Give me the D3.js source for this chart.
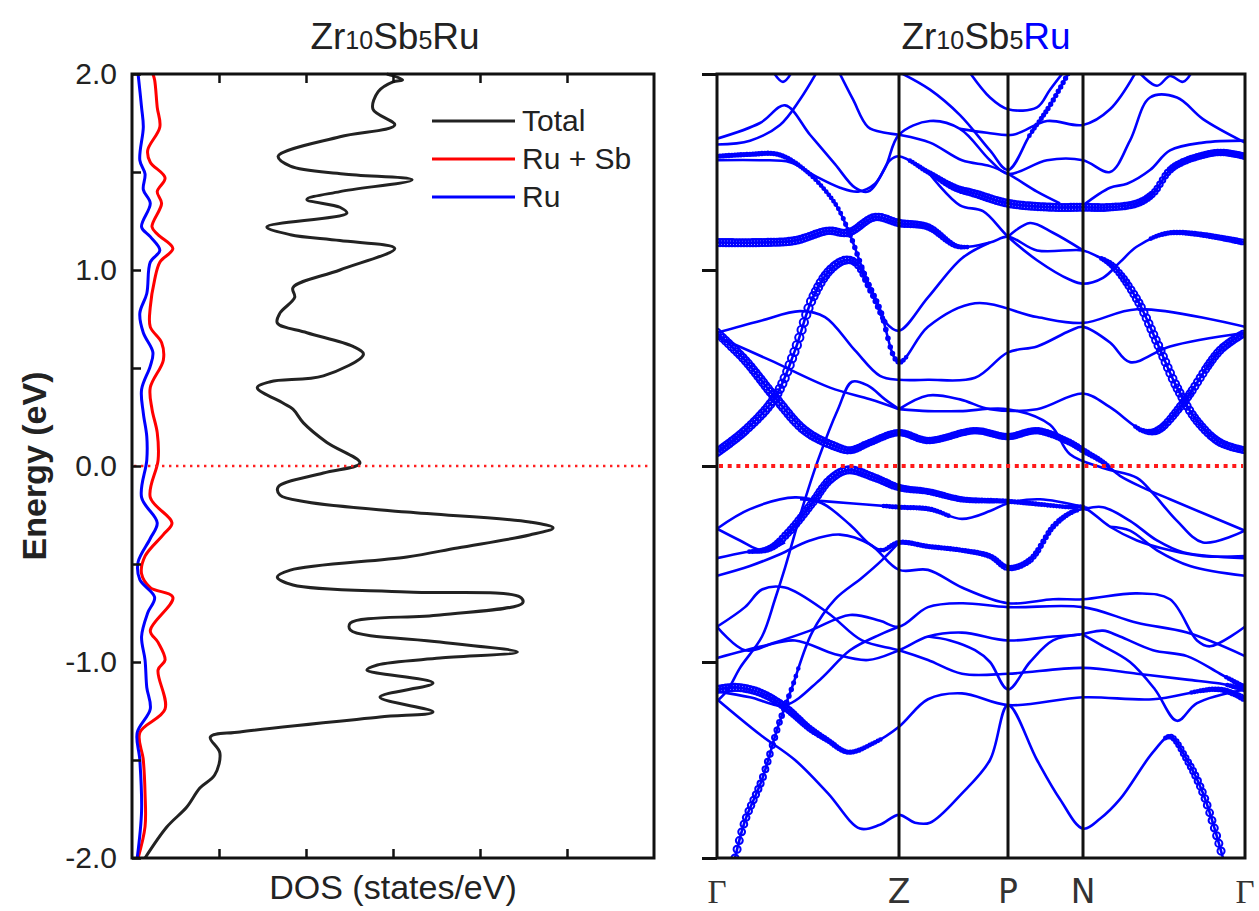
<!DOCTYPE html>
<html>
<head>
<meta charset="utf-8">
<script src="https://d3js.org/d3.v7.min.js"></script>
<style>
  body { margin: 0; background: #fff; }
  text { font-family: "Liberation Sans", Arial, sans-serif; fill: #222; }
</style>
</head>
<body>
<div class="myBox"></div>
<script>

// ---- data ----
var energyTicks = [-2, -1, 0, 1, 2];
var energyTickLabels = ["-2.0", "-1.0", "0.0", "1.0", "2.0"];
var energyMinor = [-1.5, -0.5, 0.5, 1.5];
var dosTicks = [10, 20, 30, 40, 50];

var titleParts = [["Zr", 0], ["10", 1], ["Sb", 0], ["5", 1], ["Ru", 0]];
var legendLabels = ["Total", "Ru + Sb", "Ru"];
var legendColors = ["#222222", "#ff0000", "#0000ff"];

var kPoints = [0, 1.82, 2.91, 3.66, 5.28];
var kLabels = ["Γ", "Z", "P", "N", "Γ"];

// [energy, dos]
var totalDos = [[2.0,29.3],[1.97,31.1],[1.96,30.0],[1.91,28.3],[1.82,27.7],[1.74,30.2],[1.68,23.9],[1.58,16.8],[1.53,18.2],[1.49,24.3],[1.46,32.2],[1.40,23.9],[1.36,20.1],[1.32,23.9],[1.29,24.7],[1.22,15.5],[1.18,18.2],[1.15,23.9],[1.11,30.2],[1.00,23.9],[0.91,18.5],[0.86,18.7],[0.78,17.0],[0.73,16.7],[0.68,20.1],[0.61,25.4],[0.57,26.6],[0.46,22.0],[0.43,15.9],[0.40,14.4],[0.32,17.4],[0.29,18.5],[0.22,19.7],[0.12,22.4],[0.015,26.2],[-0.036,22.0],[-0.107,16.8],[-0.148,17.0],[-0.184,20.1],[-0.235,31.6],[-0.286,45.7],[-0.316,48.4],[-0.352,45.7],[-0.418,37.4],[-0.464,31.6],[-0.531,18.2],[-0.566,16.7],[-0.607,18.5],[-0.643,31.6],[-0.668,44.6],[-0.699,44.9],[-0.760,35.4],[-0.801,25.1],[-0.837,25.1],[-0.898,35.4],[-0.949,44.3],[-0.980,35.4],[-1.015,28.2],[-1.041,27.0],[-1.107,34.6],[-1.179,28.5],[-1.255,34.6],[-1.281,28.5],[-1.357,12.4],[-1.383,9.0],[-1.464,10.1],[-1.577,9.5],[-1.643,7.8],[-1.74,6.3],[-1.842,4.0],[-2.0,1.5]];

var ruSbDos = [[2.0,2.4],[1.97,2.6],[1.83,2.9],[1.73,3.2],[1.61,1.8],[1.55,2.1],[1.47,3.8],[1.40,2.9],[1.34,3.4],[1.22,2.3],[1.18,3.0],[1.11,4.7],[1.04,3.2],[0.95,2.6],[0.81,2.1],[0.71,2.1],[0.63,3.4],[0.54,3.6],[0.40,2.1],[0.29,2.3],[0.17,2.9],[0.03,3.0],[-0.16,2.1],[-0.29,4.6],[-0.35,3.6],[-0.46,1.5],[-0.55,1.1],[-0.62,2.1],[-0.67,4.7],[-0.84,2.1],[-0.90,3.0],[-0.99,3.8],[-1.04,3.0],[-1.24,3.8],[-1.36,0.9],[-1.50,1.3],[-1.67,1.5],[-1.84,1.5],[-2.0,0.7]];

var ruDos = [[2.0,0.7],[1.83,1.1],[1.73,1.3],[1.56,0.9],[1.49,1.5],[1.41,1.3],[1.34,2.1],[1.22,1.1],[1.17,2.1],[1.10,3.2],[1.04,2.1],[0.88,1.7],[0.78,0.9],[0.68,1.3],[0.58,2.4],[0.51,2.1],[0.39,1.1],[0.27,1.3],[0.15,1.7],[0.03,1.7],[-0.16,1.1],[-0.29,2.9],[-0.37,2.1],[-0.49,0.7],[-0.58,0.9],[-0.67,2.6],[-0.75,1.8],[-0.87,1.1],[-0.99,1.5],[-1.13,1.7],[-1.24,2.1],[-1.36,0.6],[-1.50,0.9],[-1.76,1.1],[-2.0,0.6]];

// bands: [k, energy, Ru weight]
var bands = [
  [[0.55,2.02],[0.66,1.96],[0.76,2.02]],
  [[0,1.67],[0.43,1.75],[0.68,1.84],[0.93,1.69],[1.18,1.54],[1.38,1.42],[1.51,1.40],[1.68,1.52],[1.82,1.69],[2.13,1.76],[2.43,1.72],[2.73,1.56],[2.91,1.49],[3.30,1.56],[3.66,1.56],[3.93,1.50],[4.13,1.66],[4.33,1.88],[4.60,1.88],[4.86,1.77],[5.28,1.65]],
  [[0,1.64],[0.33,1.66],[0.63,1.74],[0.83,1.87],[1.01,2.02]],
  [[1.21,2.02],[1.36,1.87],[1.51,1.73],[1.68,1.70],[1.82,1.69],[2.13,1.65],[2.45,1.56],[2.73,1.53],[2.91,1.49],[3.20,1.40],[3.43,1.34]],
  [[0,1.58,0.3],[0.33,1.59,0.3],[0.61,1.59,0.3],[0.88,1.51,0.25],[1.18,1.34,0.25],[1.33,1.18,0.3],[1.48,0.97,0.35],[1.63,0.80,0.35],[1.82,0.53,0.3],[2.11,0.71,0.05],[2.58,0.83,0],[3.20,0.76,0],[3.66,0.73,0],[4.20,0.80,0],[5.28,0.71,0]],
  [[0,1.56,0.2],[0.43,1.56,0.2],[0.73,1.55,0.15],[0.98,1.48,0.1],[1.23,1.42,0.1],[1.41,1.40,0.1],[1.58,1.44,0.1],[1.73,1.56,0.15],[1.82,1.58,0.2],[2.11,1.50,0.3],[2.38,1.42,0.5],[2.58,1.39,0.6],[2.91,1.34,0.65],[3.36,1.32,0.65],[3.66,1.32,0.65],[3.93,1.32,0.6],[4.20,1.34,0.55],[4.36,1.39,0.5],[4.53,1.51,0.5],[4.70,1.56,0.5],[5.03,1.60,0.5],[5.28,1.58,0.5]],
  [[1.82,2.01,0],[2.13,1.92,0],[2.43,1.79,0],[2.73,1.61,0],[2.91,1.51,0.1],[3.13,1.69,0.25],[3.33,1.84,0.3],[3.53,2.02,0.3]],
  [[2.51,2.02],[2.73,1.88],[2.91,1.82],[3.20,1.83],[3.33,1.92],[3.48,2.02]],
  [[2.43,1.72],[2.70,1.70],[2.96,1.69],[3.30,1.76],[3.66,1.74],[3.93,1.82],[4.20,2.02]],
  [[4.20,2.02],[4.40,1.94],[4.53,1.99],[4.66,1.96],[4.76,2.02]],
  [[3.66,1.33],[3.93,1.42],[4.10,1.44],[4.33,1.51],[4.53,1.61],[4.86,1.65],[5.28,1.66]],
  [[0,1.14,0.65],[0.43,1.14,0.65],[0.78,1.15,0.65],[1.11,1.20,0.6],[1.31,1.19,0.6],[1.58,1.27,0.6],[1.82,1.24,0.6],[2.11,1.22,0.5],[2.41,1.12,0.3],[2.73,1.14,0.1],[2.91,1.17,0.05],[3.20,1.10,0],[3.66,1.10,0.05],[3.80,1.07,0.2],[3.96,1.02,0.45],[4.20,0.85,0.65],[4.40,0.63,0.7],[4.60,0.40,0.7],[4.80,0.23,0.65],[5.03,0.12,0.6],[5.28,0.08,0.55]],
  [[2.11,1.50,0],[2.43,1.33,0],[2.66,1.30,0],[2.91,1.17,0],[3.20,1.05,0],[3.53,0.95,0],[3.66,0.93,0],[3.86,0.96,0],[4.03,1.04,0.1],[4.20,1.12,0.2],[4.53,1.19,0.3],[5.28,1.14,0.45]],
  [[2.91,1.17],[3.13,1.24],[3.36,1.19],[3.66,1.10]],
  [[0,0.07,0.7],[0.28,0.18,0.7],[0.58,0.35,0.75],[0.78,0.59,0.75],[0.95,0.85,0.75],[1.13,1.00,0.7],[1.28,1.05,0.65],[1.38,1.04,0.55],[1.55,0.88,0.4],[1.69,0.73,0.25],[1.82,0.69,0.15],[2.11,0.86,0.1],[2.45,1.06,0.1],[2.73,1.14,0.05]],
  [[0,0.68,0.7],[0.28,0.54,0.7],[0.58,0.35,0.75],[0.88,0.18,0.7],[1.18,0.10,0.65],[1.33,0.08,0.55],[1.53,0.12,0.5],[1.82,0.17,0.5],[2.11,0.13,0.5],[2.58,0.18,0.5],[2.91,0.15,0.5],[3.20,0.18,0.5],[3.53,0.12,0.45],[3.66,0.08,0.4],[3.86,0.02,0.3],[4.03,-0.05,0.15],[4.26,-0.11,0.05],[4.53,-0.17,0],[5.28,-0.33,0]],
  [[0,0.68],[0.43,0.74],[0.83,0.79],[1.08,0.76],[1.38,0.59],[1.63,0.46],[1.82,0.44],[2.11,0.44],[2.58,0.45],[2.91,0.58],[3.20,0.61],[3.53,0.69],[3.66,0.71],[3.93,0.63],[4.13,0.53],[4.53,0.61],[5.28,0.68]],
  [[0,0.66],[0.53,0.54],[1.13,0.40],[1.53,0.34],[1.82,0.29]],
  [[1.82,0.29,0],[2.11,0.36,0],[2.43,0.34,0],[2.73,0.29,0],[3.20,0.29,0],[3.66,0.37,0],[3.93,0.30,0.05],[4.26,0.18,0.3],[4.40,0.18,0.55],[4.66,0.32,0.65],[5.03,0.59,0.65],[5.28,0.68,0.6]],
  [[0,-1.20],[0.11,-1.14],[0.23,-1.03],[0.45,-0.87],[0.58,-0.68],[0.68,-0.52],[0.85,-0.22],[1.01,0.03],[1.21,0.29],[1.35,0.43],[1.51,0.41],[1.68,0.34],[1.82,0.29]],
  [[1.82,0.29],[2.11,0.28],[2.43,0.28],[2.91,0.29],[3.33,0.21],[3.53,0.06],[3.86,-0.01],[4.20,-0.06],[4.36,-0.14],[4.60,-0.28],[4.86,-0.39],[5.28,-0.33]],
  [[0,-0.47,0.1],[0.28,-0.44,0.2],[0.53,-0.42,0.45],[0.73,-0.33,0.6],[0.95,-0.19,0.65],[1.13,-0.07,0.65],[1.31,-0.02,0.65],[1.58,-0.06,0.6],[1.82,-0.11,0.5],[2.11,-0.13,0.45],[2.45,-0.17,0.4],[2.91,-0.18,0.3],[3.53,-0.21,0.25],[3.66,-0.21,0.25],[3.93,-0.31,0.15],[4.20,-0.38,0.1],[4.53,-0.43,0.05],[4.86,-0.46,0],[5.28,-0.46,0]],
  [[0,-0.32],[0.23,-0.38],[0.45,-0.43],[0.68,-0.39]],
  [[0,-0.32,0],[0.33,-0.22,0],[0.78,-0.16,0],[1.05,-0.19,0.05],[1.33,-0.30,0.1],[1.53,-0.40,0.2],[1.65,-0.43,0.25],[1.82,-0.39,0.3],[2.11,-0.41,0.3],[2.45,-0.43,0.3],[2.73,-0.46,0.35],[2.91,-0.52,0.4],[3.13,-0.48,0.4],[3.36,-0.31,0.35],[3.53,-0.24,0.3],[3.66,-0.22,0.2],[3.86,-0.21,0.1],[4.13,-0.28,0],[4.40,-0.38,0],[4.66,-0.44,0],[5.28,-0.47,0]],
  [[0,-0.56],[0.33,-0.51],[0.63,-0.45],[0.93,-0.38],[1.23,-0.35],[1.53,-0.40],[1.82,-0.53],[2.11,-0.53],[2.45,-0.62],[2.91,-0.70],[3.36,-0.68],[3.66,-0.68],[4.20,-0.65],[4.53,-0.68],[4.80,-0.89],[4.93,-0.92],[5.28,-0.82]],
  [[0,-0.82,0],[0.28,-0.72,0],[0.45,-0.63,0],[0.68,-0.62,0],[1.11,-0.75,0],[1.45,-0.89,0],[1.82,-0.94,0],[2.11,-0.99,0],[2.45,-1.06,0],[2.91,-1.06,0],[3.66,-1.03,0],[4.20,-1.06,0],[4.70,-1.09,0.05],[5.03,-1.11,0.2],[5.28,-1.14,0.35]],
  [[0,-0.82],[0.28,-0.94],[0.58,-0.90],[0.93,-0.84],[1.33,-0.76],[1.63,-0.79],[1.82,-0.82],[2.11,-0.72],[2.45,-0.70],[2.91,-0.72],[3.66,-0.72],[4.20,-0.80],[4.70,-0.85],[5.28,-0.97]],
  [[0,-0.98,0],[0.45,-0.92,0],[0.78,-0.89,0],[1.18,-0.96,0],[1.51,-0.99,0],[1.82,-0.94,0],[2.11,-0.87,0],[2.45,-0.85,0],[2.91,-0.89,0],[3.36,-0.87,0],[3.63,-0.86,0],[3.86,-0.84,0],[4.03,-0.87,0],[4.36,-0.94,0],[4.70,-0.97,0.05],[5.03,-1.06,0.2],[5.28,-1.13,0.35]],
  [[0,-1.14,0.65],[0.21,-1.13,0.65],[0.45,-1.16,0.6],[0.68,-1.23,0.55],[0.93,-1.34,0.45],[1.11,-1.40,0.35],[1.31,-1.46,0.3],[1.58,-1.41,0.25],[1.82,-1.33,0.2],[2.11,-1.19,0.1],[2.45,-1.16,0.05],[2.91,-1.22,0],[3.66,-1.18,0],[4.36,-1.19,0.1],[5.03,-1.14,0.35],[5.28,-1.19,0.45]],
  [[0,-1.19,0],[0.43,-1.37,0],[0.78,-1.50,0],[1.11,-1.67,0],[1.43,-1.85,0],[1.63,-1.83,0],[1.82,-1.78,0],[1.98,-1.82,0],[2.13,-1.82,0],[2.45,-1.67,0],[2.73,-1.50,0],[2.91,-1.22,0],[3.20,-1.50,0],[3.43,-1.70,0],[3.66,-1.85,0],[3.83,-1.80,0],[4.03,-1.70,0],[4.36,-1.46,0.05],[4.53,-1.38,0.35],[4.70,-1.50,0.5],[4.86,-1.67,0.6],[5.06,-2.0,0.65]],
  [[0.18,-2.0,0.65],[0.28,-1.81,0.6],[0.45,-1.60,0.55],[0.61,-1.33,0.45],[0.75,-1.13,0.3],[0.95,-0.85,0.1],[1.18,-0.68,0],[1.45,-0.57,0],[1.65,-0.48,0],[1.82,-0.39,0]],
  [[0,-1.15],[0.33,-1.18],[0.68,-1.22],[1.03,-1.09],[1.33,-0.94],[1.63,-0.86],[1.82,-0.82]],
  [[2.11,-0.87],[2.33,-0.89],[2.58,-0.94],[2.73,-1.00],[2.91,-1.14],[3.13,-1.00],[3.36,-0.89],[3.63,-0.86]],
  [[3.66,-0.86],[3.83,-0.91],[4.13,-1.00],[4.38,-1.14],[4.60,-1.30],[4.80,-1.21],[5.28,-1.14]],
  [[3.93,-0.31],[4.13,-0.33],[4.40,-0.43],[4.73,-0.51],[5.28,-0.56]],
  [[0.83,-0.17,0],[1.33,-0.19,0.1],[1.82,-0.21,0.3],[2.13,-0.22,0.3],[2.45,-0.27,0.2],[2.73,-0.23,0.1],[2.91,-0.19,0],[3.23,-0.17,0],[3.66,-0.21,0]]
];

// ---- drawing ----
var width = 1259;
var height = 911;

var svg = d3.select(".myBox")
  .append("svg")
  .attr("width", width)
  .attr("height", height);

var yE = d3.scaleLinear().domain([-2, 2]).range([858, 74]);
var xDos = d3.scaleLinear().domain([0, 60]).range([132, 654]);
var xK = d3.scaleLinear().domain([0, 5.28]).range([717, 1245]);

// titles
function addTitle(cx, lastColor) {
  var t = svg.append("text")
    .attr("x", cx).attr("y", 49)
    .attr("text-anchor", "middle")
    .style("font-size", "37px");
  titleParts.forEach(function(p, i) {
    t.append("tspan")
      .style("font-size", p[1] ? "25px" : "37px")
      .style("fill", i === titleParts.length - 1 ? lastColor : "#222")
      .text(p[0]);
  });
}
addTitle(395, "#222");
addTitle(986, "#0000ff");

// ---------- left panel: DOS ----------
var left = svg.append("g");

var dosLine = d3.line()
  .x(function(d) { return xDos(d[1]); })
  .y(function(d) { return yE(d[0]); })
  .curve(d3.curveCatmullRom.alpha(0.5));

left.append("path").datum(totalDos)
  .attr("d", dosLine).attr("fill", "none")
  .attr("stroke", legendColors[0]).attr("stroke-width", 3);
left.append("path").datum(ruSbDos)
  .attr("d", dosLine).attr("fill", "none")
  .attr("stroke", legendColors[1]).attr("stroke-width", 3);
left.append("path").datum(ruDos)
  .attr("d", dosLine).attr("fill", "none")
  .attr("stroke", legendColors[2]).attr("stroke-width", 3);

// fermi level
left.append("line")
  .attr("x1", 134).attr("x2", 652)
  .attr("y1", yE(0)).attr("y2", yE(0))
  .attr("stroke", "#ff2020").attr("stroke-width", 2.4)
  .attr("stroke-dasharray", "2.4,4.6");

// frame
left.append("rect")
  .attr("x", 132).attr("y", 74)
  .attr("width", 654 - 132).attr("height", 858 - 74)
  .attr("fill", "none").attr("stroke", "#111").attr("stroke-width", 3);

var yAxisL = left.append("g")
  .attr("transform", "translate(132,0)")
  .call(d3.axisLeft(yE).tickValues(energyTicks)
    .tickSizeInner(-9).tickSizeOuter(0).tickPadding(15)
    .tickFormat(function(d, i) { return energyTickLabels[i]; }));
yAxisL.select(".domain").remove();
yAxisL.selectAll("line").attr("stroke", "#111").attr("stroke-width", 2.5);
yAxisL.selectAll("text")
  .style("font-size", "30px").style("font-family", "'Liberation Sans', Arial, sans-serif")
  .attr("fill", "#222");

var yMinorL = left.append("g")
  .attr("transform", "translate(132,0)")
  .call(d3.axisLeft(yE).tickValues(energyMinor).tickSize(-9).tickFormat(""));
yMinorL.select(".domain").remove();
yMinorL.selectAll("line").attr("stroke", "#111").attr("stroke-width", 2.5);

var xTop = left.append("g")
  .attr("transform", "translate(0,74)")
  .call(d3.axisTop(xDos).tickValues(dosTicks).tickSize(-9).tickFormat(""));
xTop.select(".domain").remove();
xTop.selectAll("line").attr("stroke", "#111").attr("stroke-width", 2.5);

var xBot = left.append("g")
  .attr("transform", "translate(0,858)")
  .call(d3.axisBottom(xDos).tickValues(dosTicks).tickSize(-9).tickFormat(""));
xBot.select(".domain").remove();
xBot.selectAll("line").attr("stroke", "#111").attr("stroke-width", 2.5);

// axis labels
svg.append("text")
  .attr("transform", "translate(46,466) rotate(-90)")
  .attr("text-anchor", "middle")
  .style("font-size", "34px").style("font-weight", "bold")
  .text("Energy (eV)");

svg.append("text")
  .attr("x", 393).attr("y", 899)
  .attr("text-anchor", "middle")
  .style("font-size", "34px")
  .text("DOS (states/eV)");

// legend
var legend = left.append("g");
legendLabels.forEach(function(name, i) {
  var ly = 121 + i * 38;
  legend.append("line")
    .attr("x1", 432).attr("x2", 515)
    .attr("y1", ly).attr("y2", ly)
    .attr("stroke", legendColors[i]).attr("stroke-width", 3);
  legend.append("text")
    .attr("x", 522).attr("y", ly + 10)
    .style("font-size", "30px")
    .text(name);
});

// ---------- right panel: bands ----------
var right = svg.append("g");

svg.append("defs").append("clipPath").attr("id", "bandclip")
  .append("rect")
  .attr("x", 717).attr("y", 74)
  .attr("width", 1245 - 717).attr("height", 858 - 74);

var bandG = right.append("g").attr("clip-path", "url(#bandclip)");

var bandLine = d3.line()
  .x(function(d) { return xK(d[0]); })
  .y(function(d) { return yE(d[1]); })
  .curve(d3.curveCatmullRom.alpha(0.5));

var blue = "#0000ff";

bands.forEach(function(b) {
  var path = bandG.append("path").datum(b)
    .attr("d", bandLine)
    .attr("fill", "none")
    .attr("stroke", blue)
    .attr("stroke-width", 2.6);

  var maxW = d3.max(b, function(p) { return p[2] || 0; });
  if (maxW > 0) {
    // fat-band circles, spaced evenly along k like the original projection
    var node = path.node();
    var len = node.getTotalLength();
    var wAt = d3.scaleLinear()
      .domain(b.map(function(p) { return p[0]; }))
      .range(b.map(function(p) { return p[2] || 0; }))
      .clamp(true);
    var dots = [];
    var lastX = -999, lastS = -999;
    for (var s = 0; s <= len; s += 1) {
      var pt = node.getPointAtLength(s);
      if (Math.abs(pt.x - lastX) >= 2.2 || s - lastS >= 9) {
        var r = wAt(xK.invert(pt.x)) * 5.5;
        if (r > 1.3) dots.push([pt.x, pt.y, r]);
        lastX = pt.x; lastS = s;
      }
    }
    bandG.selectAll(null)
      .data(dots)
      .enter().append("circle")
      .attr("cx", function(d) { return d[0]; })
      .attr("cy", function(d) { return d[1]; })
      .attr("r", function(d) { return d[2]; })
      .attr("fill", "none")
      .attr("stroke", blue)
      .attr("stroke-width", 2);
  }
});

// high symmetry lines
right.selectAll(".kline")
  .data(kPoints.slice(1, 4))
  .enter().append("line")
  .attr("x1", function(d) { return xK(d); })
  .attr("x2", function(d) { return xK(d); })
  .attr("y1", 74).attr("y2", 858)
  .attr("stroke", "#111").attr("stroke-width", 3);

// fermi level
right.append("line")
  .attr("x1", 719).attr("x2", 1243)
  .attr("y1", yE(0)).attr("y2", yE(0))
  .attr("stroke", "#ff1a1a").attr("stroke-width", 4)
  .attr("stroke-dasharray", "4,4.7");

right.append("rect")
  .attr("x", 717).attr("y", 74)
  .attr("width", 1245 - 717).attr("height", 858 - 74)
  .attr("fill", "none").attr("stroke", "#111").attr("stroke-width", 3);

var yAxisR = right.append("g")
  .attr("transform", "translate(717,0)")
  .call(d3.axisLeft(yE).tickValues(energyTicks).tickSize(15).tickFormat(""));
yAxisR.select(".domain").remove();
yAxisR.selectAll("line").attr("stroke", "#111").attr("stroke-width", 3);

right.selectAll(".klabel")
  .data(kPoints)
  .enter().append("text")
  .attr("x", function(d) { return xK(d); })
  .attr("y", 903)
  .attr("text-anchor", "middle")
  .style("font-size", "33px")
  .style("fill", "#333")
  .style("font-family", function(d, i) { return kLabels[i] === "Γ" ? "'Liberation Serif', serif" : "'DejaVu Sans', sans-serif"; })
  .text(function(d, i) { return kLabels[i]; });

</script>
</body>
</html>
